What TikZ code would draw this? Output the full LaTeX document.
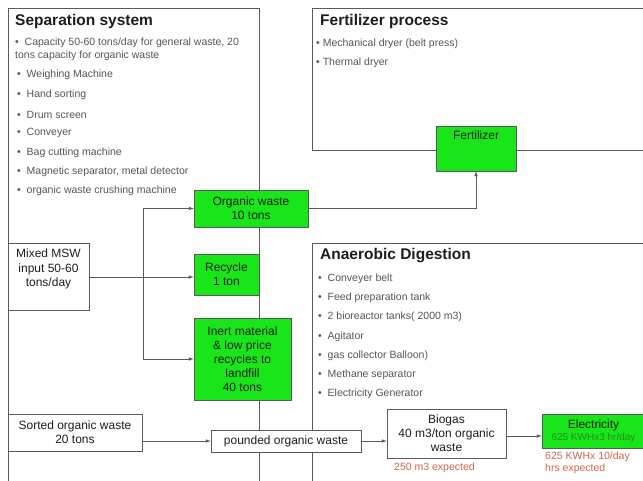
\documentclass[tikz,border=0pt]{standalone}
\usepackage{fontspec}
\setmainfont{Liberation Sans}
\usetikzlibrary{arrows}

\definecolor{boxgreen}{RGB}{24,230,24}
\definecolor{framegray}{RGB}{90,90,90}
\definecolor{itemgray}{RGB}{85,85,85}
\definecolor{textdark}{RGB}{30,30,30}
\definecolor{notered}{RGB}{205,100,75}
\definecolor{elecgreen}{RGB}{35,140,35}

\tikzset{
  frame/.style={draw=framegray,line width=0.8pt},
  heading/.style={anchor=west,inner sep=0pt,text=textdark,font=\fontsize{15.5}{18}\selectfont\bfseries},
  item/.style={anchor=west,inner sep=0pt,text=itemgray,font=\fontsize{10.5}{13}\selectfont},
  whitebox/.style={draw=framegray,fill=white,text=textdark,align=center,inner sep=2pt,
    line width=0.7pt,font=\fontsize{12}{14}\selectfont},
  greenbox/.style={whitebox,fill=boxgreen},
  note/.style={anchor=west,inner sep=0pt,text=notered,align=left,font=\fontsize{10.5}{12}\selectfont},
  flow/.style={->,draw=framegray,line width=0.7pt}
}

\begin{document}
\begin{tikzpicture}[x=1pt,y=-1pt,>=latex]
        \useasboundingbox (0,0) rectangle (643,481);
        \clip (0,0) rectangle (643,481);

        % draw the three process frames
        \draw[frame] (8,8) rectangle (259,500);
        \draw[frame] (312,8) rectangle (660,150);
        \draw[frame] (312,243) rectangle (660,500);

        % headings
        \node[heading] (septitle) at (15,21) {Separation system};
        \node[heading] (fertitle) at (320,21) {Fertilizer process};
        \node[heading] (adtitle) at (320,256) {Anaerobic Digestion};

        % separation system items
        \node[item,anchor=north west,align=left] (sep44) at (15,38)
              {\textbullet\ \ Capacity 50-60 tons/day for general waste, 20\\tons capacity for organic waste};
        \foreach \y/\txt in {75/Weighing Machine,
                             95/Hand sorting,
                             115/Drum screen,
                             133/Conveyer,
                             153/Bag cutting machine,
                             172/{Magnetic separator, metal detector},
                             191/organic waste crushing machine}
                \node[item] (sep\y) at (17,\y) {\textbullet\ \ \txt};

        % fertilizer process items
        \foreach \y/\txt in {44/Mechanical dryer (belt press),
                             63/Thermal dryer}
                \node[item] (fer\y) at (316,\y) {\textbullet\ \txt};

        % anaerobic digestion items
        \foreach \y/\txt in {279/Conveyer belt,
                             298/Feed preparation tank,
                             317/2 bioreactor tanks( 2000 m3),
                             337/Agitator,
                             356/gas collector Balloon),
                             375/Methane separator,
                             394/Electricity Generator}
                \node[item] (ad\y) at (318,\y) {\textbullet\ \ \txt};

        % the boxes of the flow
        \node[whitebox,minimum width=81pt,minimum height=67pt,
              label={[anchor=north,align=center,text=textdark,inner sep=0pt,yshift=-6pt,
                      font=\fontsize{12}{14.5}\selectfont]north:{Mixed MSW\\input 50-60\\tons/day}}]
              (msw) at (48.5,276.5) {};
        \node[greenbox,minimum width=114pt,minimum height=37pt] (organic) at (251,208.5)
              {Organic waste\\10 tons};
        \node[greenbox,minimum width=65pt,minimum height=41pt] (recycle) at (226.5,274.5)
              {Recycle\\1 ton};
        \node[greenbox,minimum width=97pt,minimum height=82pt] (inert) at (242.5,359)
              {Inert material\\\& low price\\recycles to\\landfill\\40 tons};
        \node[greenbox,minimum width=80pt,minimum height=45pt,
              label={[anchor=north,text=textdark,inner sep=0pt,yshift=-5pt,
                      font=\fontsize{12}{14}\selectfont]north:Fertilizer}]
              (fert) at (476,148.5) {};
        \node[whitebox,minimum width=134pt,minimum height=37pt] (sorted) at (75,432.5)
              {Sorted organic waste\\20 tons};
        \node[whitebox,minimum width=150pt,minimum height=22pt] (pounded) at (286,441)
              {pounded organic waste};
        \node[whitebox,minimum width=119pt,minimum height=49pt] (biogas) at (446.5,433.5)
              {Biogas\\40 m3/ton organic\\waste};
        \node[greenbox,minimum width=103pt,minimum height=34pt,
              font=\fontsize{12}{12}\selectfont] (elec) at (593.5,431)
              {Electricity\\{\color{elecgreen}\fontsize{10}{11}\selectfont 625 KWHx3 hr/day}};

        % notes under the boxes
        \node[note] (biogasnote) at (394,468) {250 m3 expected};
        \node[note] (elecnote) at (545,463) {625 KWHx 10/day\\hrs expected};

        % draw the connectors
        \coordinate (split) at (143,277);
        \draw[draw=framegray,line width=0.7pt] (msw.east |- split) -- (split);
        \draw[flow] (split) |- (organic.west);
        \draw[flow] (split) -- (recycle.west |- split);
        \draw[flow] (split) |- (inert.west);
        \draw[flow] (organic.east) -| (fert.south);
        \draw[flow] (sorted.east |- pounded.west) -- (pounded.west);
        \draw[flow] (pounded.east) -- (biogas.west |- pounded.east);
        \draw[flow] (biogas.east |- 0,436) -- (elec.west |- 0,436);
\end{tikzpicture}
\end{document}
